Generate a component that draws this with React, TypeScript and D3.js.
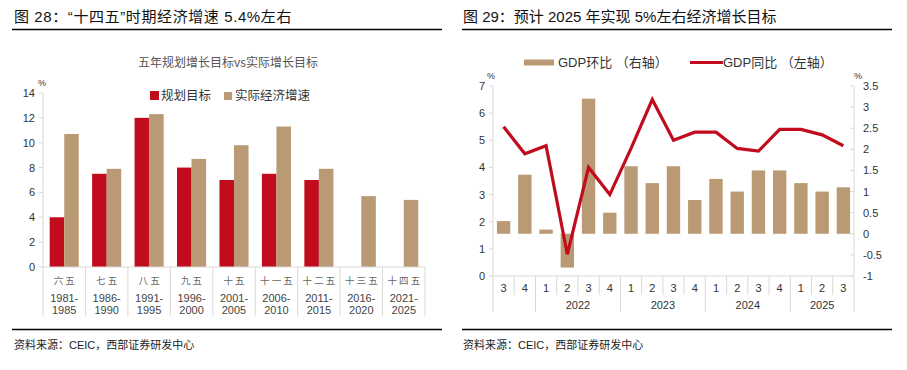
import * as d3 from 'd3';

// left chart: five-year plans
const periods = ['六五', '七五', '八五', '九五', '十五', '十一五', '十二五', '十三五', '十四五'];
const periodYears = [
  ['1981-', '1985'], ['1986-', '1990'], ['1991-', '1995'], ['1996-', '2000'], ['2001-', '2005'],
  ['2006-', '2010'], ['2011-', '2015'], ['2016-', '2020'], ['2021-', '2025'],
];
const planTarget: Array<number | null> = [4, 7.5, 12, 8, 7, 7.5, 7, null, null];
const actualGrowth = [10.7, 7.9, 12.3, 8.7, 9.8, 11.3, 7.9, 5.7, 5.4];
const leftTicks = [0, 2, 4, 6, 8, 10, 12, 14];

// right chart: quarterly GDP
const quarters = ['3', '4', '1', '2', '3', '4', '1', '2', '3', '4', '1', '2', '3', '4', '1', '2', '3'];
const quarterYear = ['2021', '2021', '2022', '2022', '2022', '2022', '2023', '2023', '2023', '2023',
  '2024', '2024', '2024', '2024', '2025', '2025', '2025'];
const shownYears = ['2022', '2023', '2024', '2025'];
const gdpYoY = [5.5, 4.5, 4.8, 0.8, 4.0, 3.0, 4.7, 6.5, 5.0, 5.3, 5.3, 4.7, 4.6, 5.4, 5.4, 5.2, 4.8];
const gdpQoQ = [0.3, 1.4, 0.1, -0.8, 3.2, 0.5, 1.6, 1.2, 1.6, 0.8, 1.3, 1.0, 1.5, 1.5, 1.2, 1.0, 1.1];
const yoyTicks = [0, 1, 2, 3, 4, 5, 6, 7];
const qoqTicks = [-1, -0.5, 0, 0.5, 1, 1.5, 2, 2.5, 3, 3.5];

const RED = '#C00C1C';
const TAN = '#BA9A74';
const AXIS = '#D9D9D9';
const TEXT = '#333';
const CJK = '"Noto Sans CJK SC", sans-serif';
const LATIN = '"Liberation Sans", Arial, "Noto Sans CJK SC", sans-serif';

function PlanChart() {
  const x = d3.scaleBand<string>().domain(periods).range([43, 425]);
  const inner = d3.scaleBand<string>().domain(['plan', 'actual']).range([0, x.bandwidth()]).paddingOuter(0.46);
  const y = d3.scaleLinear().domain([0, 14]).range([267, 93]);
  const axisX = x.range()[0];

  return (
    <g>
      <text x={14} y={22} fontFamily={LATIN} fontSize={15} letterSpacing={0.6} fill="#111">
        图 28：“十四五”时期经济增速 5.4%左右
      </text>
      <line x1={12} x2={442} y1={29.5} y2={29.5} stroke="#000" strokeWidth={1.5} />
      <text x={228} y={67} textAnchor="middle" fontFamily={CJK} fontSize={12} fill="#555">
        五年规划增长目标vs实际增长目标
      </text>

      <rect x={150} y={91} width={9} height={9} fill={RED} />
      <text x={161} y={100} fontFamily={CJK} fontSize={12.5} fill={TEXT}>规划目标</text>
      <rect x={224} y={92} width={8} height={8} fill={TAN} />
      <text x={235} y={100} fontFamily={CJK} fontSize={12.5} fill={TEXT}>实际经济增速</text>

      <text x={42} y={86} fontFamily={LATIN} fontSize={9} fill={TEXT} textAnchor="middle">%</text>
      <line x1={axisX} x2={axisX} y1={y(14)} y2={y(0)} stroke={AXIS} />
      {leftTicks.map((t) => (
        <g key={t}>
          <line x1={axisX - 4} x2={axisX} y1={y(t)} y2={y(t)} stroke={AXIS} />
          <text x={35} y={y(t) + 4} textAnchor="end" fontFamily={LATIN} fontSize={11} fill={TEXT}>{t}</text>
        </g>
      ))}

      {periods.map((p, i) => {
        const x0 = x(p)!;
        const plan = planTarget[i];
        return (
          <g key={p}>
            {plan != null && (
              <rect x={x0 + inner('plan')!} y={y(plan)} width={inner.bandwidth()} height={y(0) - y(plan)} fill={RED} />
            )}
            <rect x={x0 + inner('actual')!} y={y(actualGrowth[i])} width={inner.bandwidth()}
              height={y(0) - y(actualGrowth[i])} fill={TAN} />
            <text x={x0 + x.bandwidth() / 2} y={284} textAnchor="middle" fontFamily={CJK} fontSize={9.5} fill="#666">
              {p.split('').join(' ')}
            </text>
            <text x={x0 + x.bandwidth() / 2} y={302} textAnchor="middle" fontFamily={LATIN} fontSize={11} fill="#444">
              {periodYears[i][0]}
            </text>
            <text x={x0 + x.bandwidth() / 2} y={314} textAnchor="middle" fontFamily={LATIN} fontSize={11} fill="#444">
              {periodYears[i][1]}
            </text>
          </g>
        );
      })}
      {[...periods.map((p) => x(p)!), x.range()[1]].map((sx, i) => (
        <line key={i} x1={sx} x2={sx} y1={y(0)} y2={316} stroke={AXIS} />
      ))}
      <line x1={axisX} x2={x.range()[1]} y1={y(0)} y2={y(0)} stroke={AXIS} />

      <line x1={12} x2={442} y1={329.5} y2={329.5} stroke="#000" strokeWidth={1.5} />
      <text x={14} y={349} fontFamily={LATIN} fontSize={11} fill="#222">资料来源：CEIC，西部证券研发中心</text>
    </g>
  );
}

function GdpChart() {
  const idx = quarters.map((_, i) => String(i));
  const x = d3.scaleBand<string>().domain(idx).range([493, 854]).paddingInner(0.37).paddingOuter(0.185);
  const band = d3.scaleBand<string>().domain(idx).range([493, 854]);
  const yL = d3.scaleLinear().domain([0, 7]).range([276, 86]);
  const yR = d3.scaleLinear().domain([-1, 3.5]).range([276, 86]);
  const [left, right] = band.range();

  const line = d3
    .line<number>()
    .x((_, i) => band(String(i))! + band.bandwidth() / 2)
    .y((d) => yL(d));

  // year group boundaries
  const boundaries: number[] = [left];
  quarterYear.forEach((yr, i) => {
    if (i > 0 && yr !== quarterYear[i - 1]) boundaries.push(band(String(i))!);
  });
  boundaries.push(right);

  return (
    <g>
      <text x={463} y={22} fontFamily={LATIN} fontSize={15} fill="#111">
        图 29：预计 2025 年实现 5%左右经济增长目标
      </text>
      <line x1={462} x2={892} y1={29.5} y2={29.5} stroke="#000" strokeWidth={1.5} />

      <rect x={524} y={59.5} width={30} height={6} fill={TAN} />
      <text x={558} y={67} fontFamily={LATIN} fontSize={13} fill={TEXT}>GDP环比 （右轴）</text>
      <line x1={690} x2={723} y1={62.5} y2={62.5} stroke={RED} strokeWidth={3} />
      <text x={723} y={67} fontFamily={LATIN} fontSize={13} fill={TEXT}>GDP同比 （左轴）</text>

      <text x={491} y={79} fontFamily={LATIN} fontSize={9} fill={TEXT} textAnchor="middle">%</text>
      <text x={858} y={79} fontFamily={LATIN} fontSize={9} fill={TEXT} textAnchor="middle">%</text>

      <line x1={left} x2={left} y1={86} y2={276} stroke={AXIS} />
      {yoyTicks.map((t) => (
        <g key={t}>
          <line x1={left - 4} x2={left} y1={yL(t)} y2={yL(t)} stroke={AXIS} />
          <text x={485} y={yL(t) + 4} textAnchor="end" fontFamily={LATIN} fontSize={11} fill={TEXT}>{t}</text>
        </g>
      ))}
      <line x1={right} x2={right} y1={86} y2={276} stroke={AXIS} />
      {qoqTicks.map((t) => (
        <g key={t}>
          <line x1={right - 4} x2={right} y1={yR(t)} y2={yR(t)} stroke={AXIS} />
          <text x={863} y={yR(t) + 4} fontFamily={LATIN} fontSize={11} fill={TEXT}>{t}</text>
        </g>
      ))}

      {gdpQoQ.map((v, i) => (
        <rect key={i} x={x(String(i))} width={x.bandwidth()} y={yR(Math.max(0, v))}
          height={Math.abs(yR(v) - yR(0))} fill={TAN} />
      ))}
      <path d={line(gdpYoY) ?? ''} fill="none" stroke={RED} strokeWidth={3.2} strokeLinejoin="miter" />

      <line x1={left} x2={right} y1={276} y2={276} stroke={AXIS} />
      {quarters.map((q, i) => (
        <g key={i}>
          {i > 0 && !boundaries.includes(band(String(i))!) && (
            <line x1={band(String(i))} x2={band(String(i))} y1={276} y2={295} stroke={AXIS} />
          )}
          <text x={band(String(i))! + band.bandwidth() / 2} y={292} textAnchor="middle" fontFamily={LATIN}
            fontSize={11} fill={TEXT}>{q}</text>
        </g>
      ))}
      {boundaries.map((bx, i) => (
        <line key={i} x1={bx} x2={bx} y1={276} y2={312} stroke={AXIS} />
      ))}
      {shownYears.map((yr) => {
        const members = quarterYear.map((q, i) => (q === yr ? i : -1)).filter((i) => i >= 0);
        const x0 = band(String(members[0]))!;
        const x1 = band(String(members[members.length - 1]))! + band.bandwidth();
        return (
          <text key={yr} x={(x0 + x1) / 2} y={309} textAnchor="middle" fontFamily={LATIN} fontSize={11} fill={TEXT}>
            {yr}
          </text>
        );
      })}

      <line x1={462} x2={892} y1={329.5} y2={329.5} stroke="#000" strokeWidth={1.5} />
      <text x={463} y={349} fontFamily={LATIN} fontSize={11} fill="#222">资料来源：CEIC，西部证券研发中心</text>
    </g>
  );
}

export default function App() {
  return (
    <div>
      <style>{'body{margin:0;background:#fff}'}</style>
      <svg width={907} height={370} viewBox="0 0 907 370" style={{ display: 'block' }}>
        <rect width={907} height={370} fill="#fff" />
        <PlanChart />
        <GdpChart />
      </svg>
    </div>
  );
}
